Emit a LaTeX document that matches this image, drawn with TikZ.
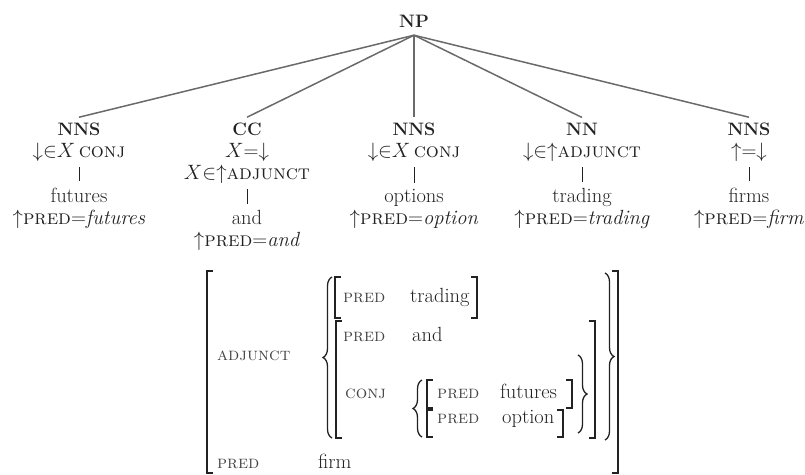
\documentclass[tikz,border=0pt]{standalone}
\usepackage{fontspec}
\usetikzlibrary{decorations.pathreplacing}
\definecolor{ink}{HTML}{222222}
\definecolor{softink}{HTML}{444444}
\definecolor{branchgray}{HTML}{6A6A6A}
\begin{document}
\begin{tikzpicture}[x=1pt,y=-1pt,
  every node/.style={inner sep=0pt, text=ink},
  cat/.style={font=\fontsize{18}{21}\selectfont\bfseries, anchor=base},
  ann/.style={font=\fontsize{20.5}{23}\selectfont, anchor=base},
  branch/.style={draw=branchgray, line width=1.5pt},
  stem/.style={draw=ink, line width=0.9pt, shorten <=6pt, shorten >=6pt},
  fval/.style={font=\fontsize{20.5}{23}\selectfont, anchor=base west},
  fattr/.style={font=\fontsize{18}{21}\selectfont\scshape, anchor=base west, text=softink},
  brk/.style={draw=ink, line width=1.4pt},
  fbrace/.style={draw=ink, line width=1.3pt, decorate, decoration={brace, amplitude=9pt}},
]
\useasboundingbox (0,0) rectangle (805,474);

% ---------- c-structure tree ----------
\node[cat] (np) at (414,27) {NP};
\node[cat] (n1) at (79,135)  {NNS};
\node[cat] (n2) at (247,135) {CC};
\node[cat] (n3) at (414,135) {NNS};
\node[cat] (n4) at (582,135) {NN};
\node[cat] (n5) at (749,135) {NNS};
\foreach \c in {n1,n2,n3,n4,n5}
  \draw[branch] ([yshift=-8pt]np.south) -- ([yshift=5pt]\c.north);

% functional annotations
\node[ann] (a1)  at (79,157)  {${\downarrow}{\in}X$\,\textsc{conj}};
\node[ann] (a2)  at (247,157) {$X{=}{\downarrow}$};
\node[ann] (a2b) at (247,179) {$X{\in}{\uparrow}$\textsc{adjunct}};
\node[ann] (a3)  at (414,157) {${\downarrow}{\in}X$\,\textsc{conj}};
\node[ann] (a4)  at (582,157) {${\downarrow}{\in}{\uparrow}$\textsc{adjunct}};
\node[ann] (a5)  at (749,157) {${\uparrow}{=}{\downarrow}$};

% words
\node[ann] (w1) at (79,202)  {futures};
\node[ann] (w2) at (247,224) {and};
\node[ann] (w3) at (414,202) {options};
\node[ann] (w4) at (582,202) {trading};
\node[ann] (w5) at (749,202) {firms};

\draw[stem] (a1) -- (w1);
\draw[stem] (a2b) -- (w2);
\draw[stem] (a3) -- (w3);
\draw[stem] (a4) -- (w4);
\draw[stem] (a5) -- (w5);

% lexical equations
\node[ann] (p1) at (79,224)  {${\uparrow}$\textsc{pred}${=}$\textit{futures}};
\node[ann] (p2) at (247,246) {${\uparrow}$\textsc{pred}${=}$\textit{and}};
\node[ann] (p3) at (414,224) {${\uparrow}$\textsc{pred}${=}$\textit{option}};
\node[ann] (p4) at (582,224) {${\uparrow}$\textsc{pred}${=}$\textit{trading}};
\node[ann] (p5) at (749,224) {${\uparrow}$\textsc{pred}${=}$\textit{firm}};

% ---------- f-structure ----------
\node[fattr] (fadj)   at (217,360) {adjunct};
\node[fattr] (fpred)  at (217,468) {pred};
\node[fval]  (ffirm)  at (318,468) {firm};
\node[fattr] (tpred)  at (343,302) {pred};
\node[fval]  (tval)   at (410,302) {trading};
\node[fattr] (apred)  at (343,341) {pred};
\node[fval]  (aval)   at (412,341) {and};
\node[fattr] (aconj)  at (345,398) {conj};
\node[fattr] (fupred) at (437,398) {pred};
\node[fval]  (fuval)  at (500,398) {futures};
\node[fattr] (oppred) at (437,423) {pred};
\node[fval]  (opval)  at (502,423) {option};

% square brackets
\draw[brk] (213,271) -- (207,271) -- (207,473) -- (213,473);
\draw[brk] (612,271) -- (618,271) -- (618,473) -- (612,473);
\draw[brk] (341,277) -- (335,277) -- (335,318) -- (341,318);
\draw[brk] (471,277) -- (477,277) -- (477,318) -- (471,318);
\draw[brk] (342,321) -- (336,321) -- (336,438) -- (342,438);
\draw[brk] (589,321) -- (595,321) -- (595,438) -- (589,438);
\draw[brk] (433,380) -- (427,380) -- (427,408) -- (433,408);
\draw[brk] (566,380) -- (572,380) -- (572,408) -- (566,408);
\draw[brk] (433,410) -- (427,410) -- (427,437) -- (433,437);
\draw[brk] (557,410) -- (563,410) -- (563,437) -- (557,437);

% set braces
\draw[fbrace] (332,438) -- (332,277);
\draw[fbrace] (422,437) -- (422,380);
\draw[fbrace] (578,355) -- (578,433);
\draw[fbrace] (605,273) -- (605,440);
\end{tikzpicture}
\end{document}
